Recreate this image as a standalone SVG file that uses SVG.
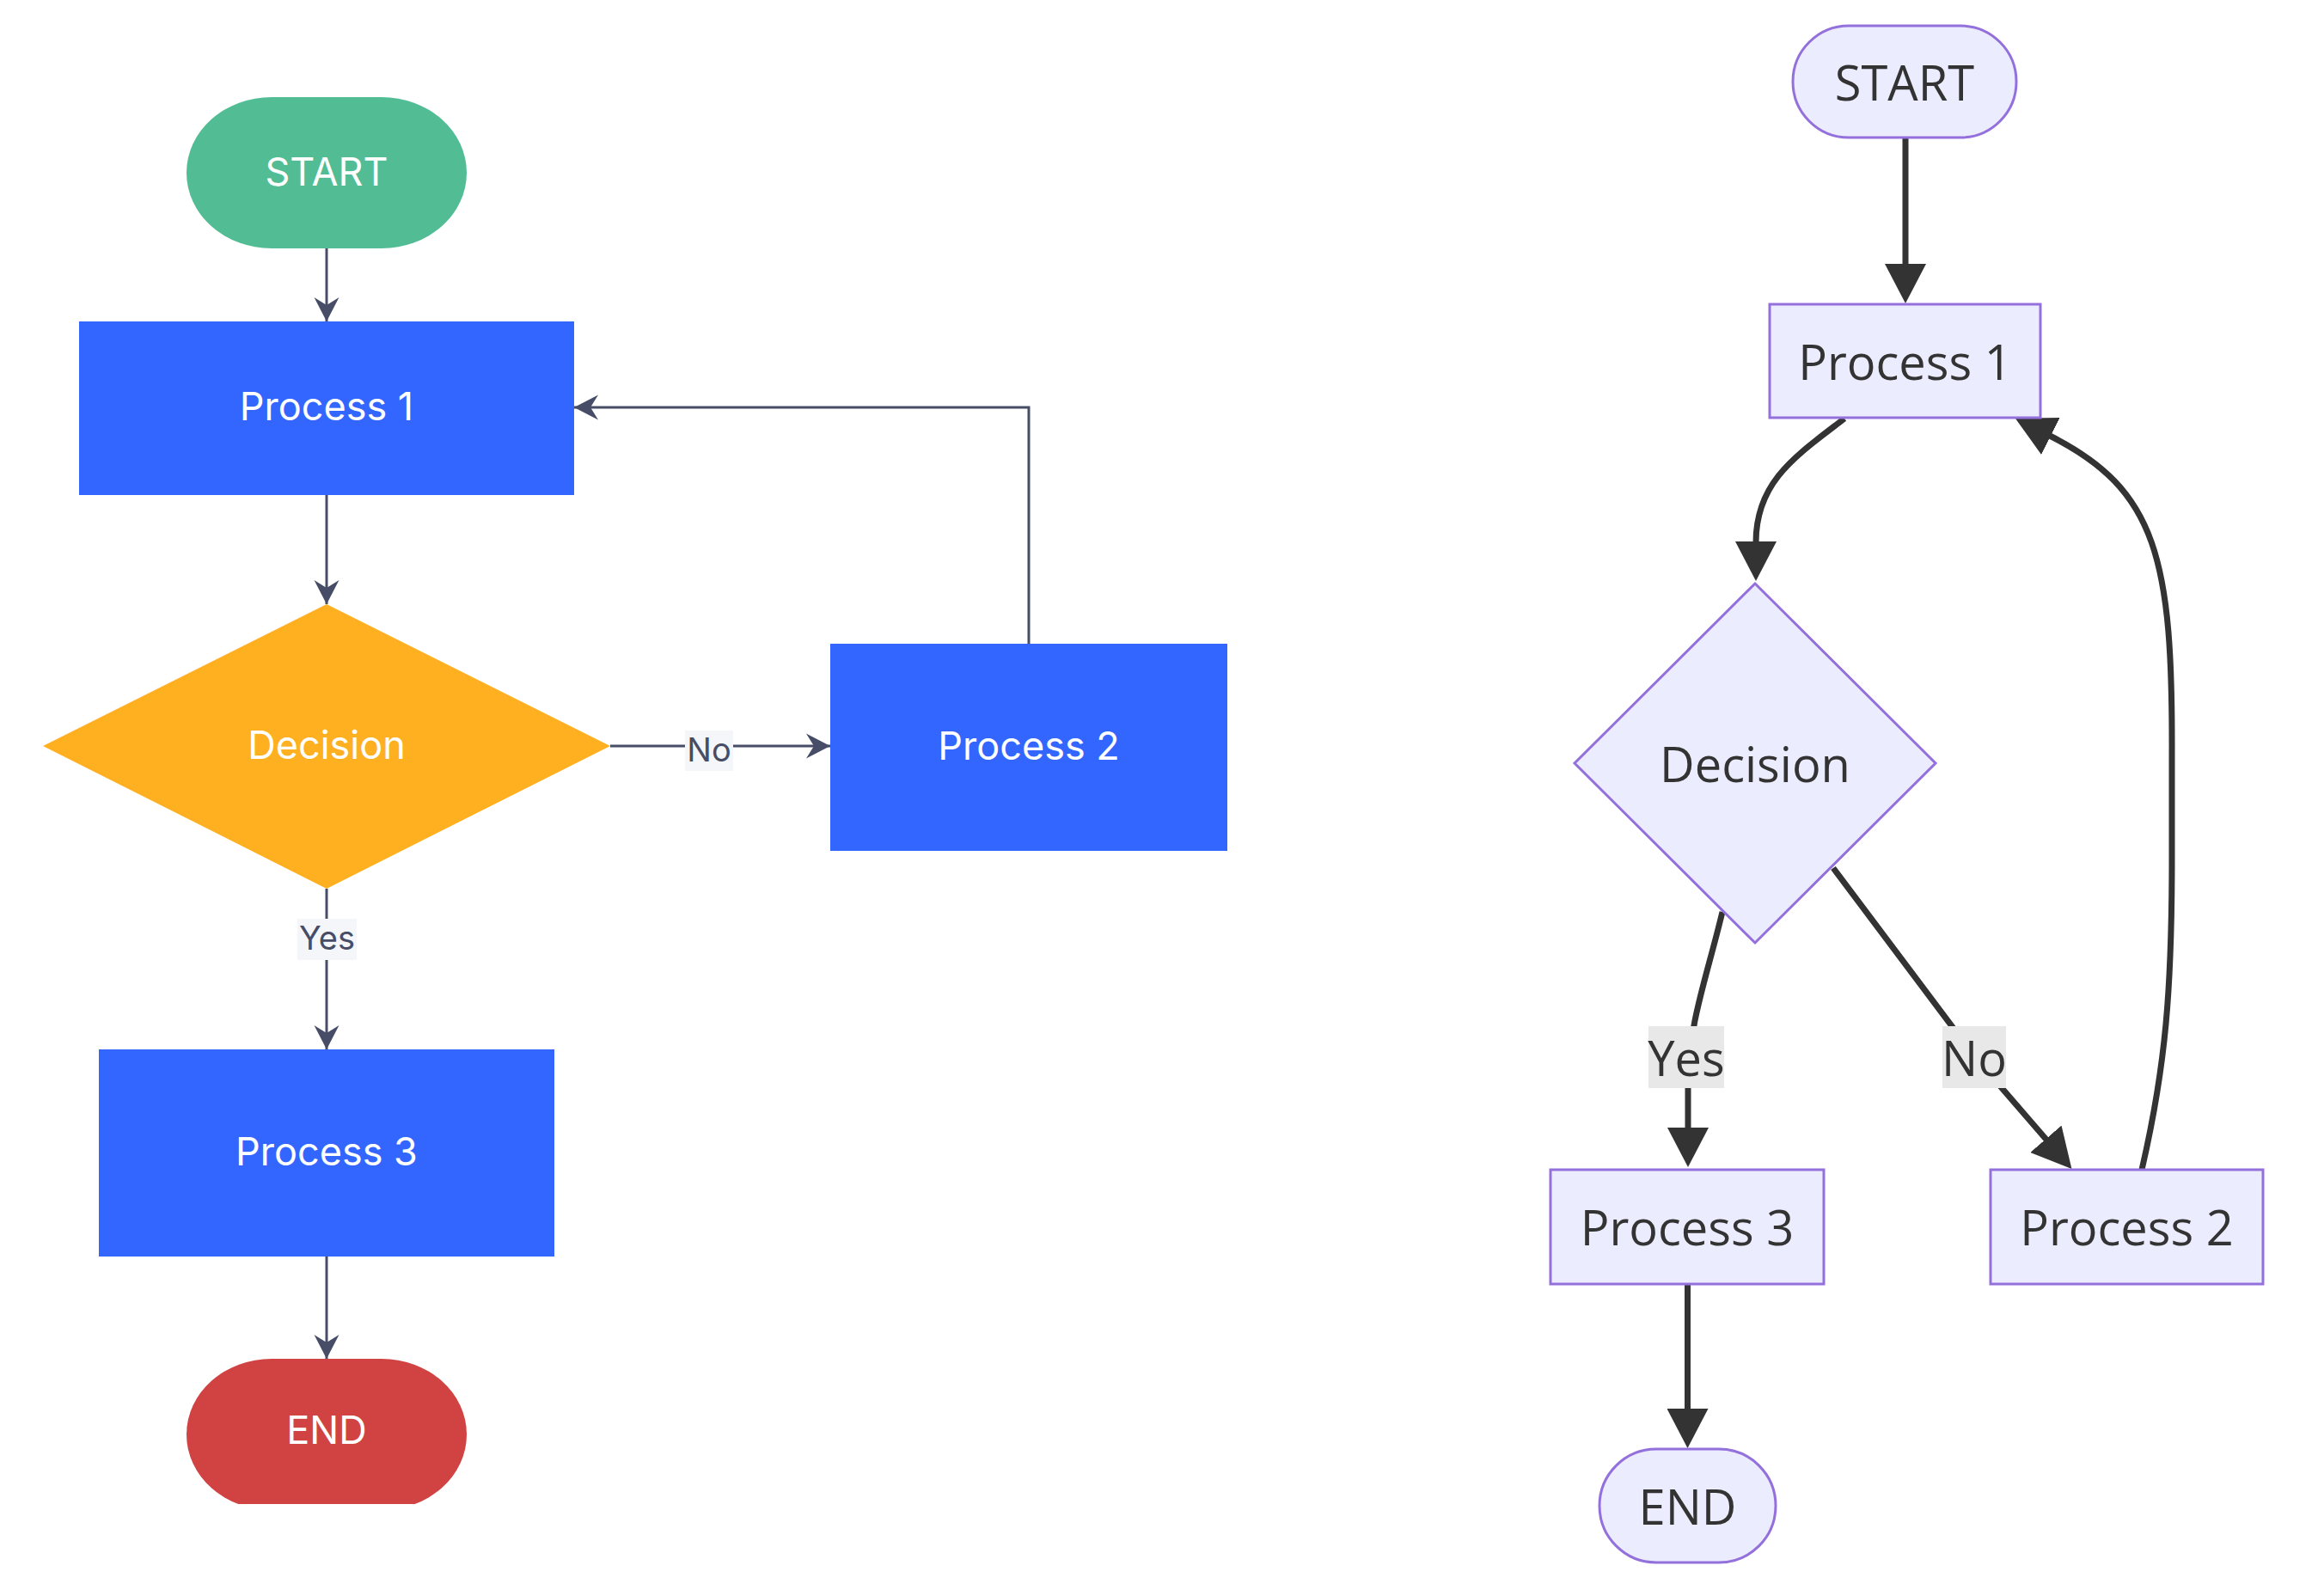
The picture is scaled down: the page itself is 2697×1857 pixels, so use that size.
<svg xmlns="http://www.w3.org/2000/svg" width="2697" height="1857" viewBox="0 0 2697 1857">
<style>
  .lt { font-family: Inter, "Liberation Sans", Arial, sans-serif; font-size: 45px; fill: #FFFFFF; text-anchor: middle; }
  .ll { font-family: Inter, "Liberation Sans", Arial, sans-serif; font-size: 38px; fill: #474D66; text-anchor: middle; }
  .le { fill: none; stroke: #474D66; stroke-width: 3; }
  .lbg { fill: #F4F6FA; }
  .blue { fill: #3366FF; }
  .rn { fill: #ECECFF; stroke: #9370DB; stroke-width: 3; }
  .rt { font-family: "Open Sans", "Noto Sans", "DejaVu Sans", sans-serif; font-size: 56px; fill: #333333; text-anchor: middle; }
  .re { fill: none; stroke: #333333; stroke-width: 7; }
  .rbg { fill: #E8E8E8; }
</style>
<defs>
  <marker id="stealth" markerUnits="userSpaceOnUse" markerWidth="30" markerHeight="30" viewBox="0 0 30 30" refX="28" refY="15" orient="auto">
    <path d="M28,15 L0,0.5 L9,15 L0,29.5 Z" fill="#474D66"/>
  </marker>
  <marker id="tri" markerUnits="userSpaceOnUse" markerWidth="46" markerHeight="48" viewBox="0 0 46 48" refX="1" refY="24" orient="auto">
    <path d="M0,0 L46,24 L0,48 Z" fill="#333333"/>
  </marker>
  <clipPath id="endclip"><rect x="200" y="1570" width="360" height="180"/></clipPath>
</defs>
<rect x="0" y="0" width="2697" height="1857" fill="#FFFFFF"/>

<!-- LEFT DIAGRAM connectors -->
<g id="left-connectors">
  <path class="le" d="M380 289 L380 374" marker-end="url(#stealth)"/>
  <path class="le" d="M380 576 L380 703" marker-end="url(#stealth)"/>
  <path class="le" d="M710 868 L966 868" marker-end="url(#stealth)"/>
  <path class="le" d="M1197 749 L1197 474 L668 474" marker-end="url(#stealth)"/>
  <path class="le" d="M380 1034 L380 1221" marker-end="url(#stealth)"/>
  <path class="le" d="M380 1462 L380 1581" marker-end="url(#stealth)"/>
  <rect class="lbg" x="797" y="850" width="56" height="47"/>
  <text class="ll" x="825" y="886">No</text>
  <rect class="lbg" x="346" y="1069" width="69" height="48"/>
  <text class="ll" x="380.5" y="1105">Yes</text>
</g>

<!-- LEFT DIAGRAM nodes -->
<g id="l-start">
  <rect x="217" y="113" width="326" height="176" rx="99" ry="88" fill="#52BD94"/>
  <text class="lt" x="380" y="216">START</text>
</g>
<g id="l-process1">
  <rect class="blue" x="92" y="374" width="576" height="202"/>
  <text class="lt" x="380" y="489">Process 1</text>
</g>
<g id="l-decision">
  <polygon points="380,703 710,868 380,1034 50,868" fill="#FFB020"/>
  <text class="lt" x="380" y="883">Decision</text>
</g>
<g id="l-process2">
  <rect class="blue" x="966" y="749" width="462" height="241"/>
  <text class="lt" x="1197" y="884">Process 2</text>
</g>
<g id="l-process3">
  <rect class="blue" x="115" y="1221" width="530" height="241"/>
  <text class="lt" x="380" y="1356">Process 3</text>
</g>
<g id="l-end">
  <rect x="217" y="1581" width="326" height="176" rx="99" ry="88" fill="#D14343" clip-path="url(#endclip)"/>
  <text class="lt" x="380" y="1680">END</text>
</g>

<!-- RIGHT DIAGRAM connectors -->
<g id="right-connectors">
  <path class="re" d="M2217 160 L2217 308" marker-end="url(#tri)"/>
  <path class="re" d="M2146 487 C2090 530 2043 560 2043 631" marker-end="url(#tri)"/>
  <path class="re" d="M2004 1061 C1985 1140 1965 1190 1964 1260 L1964 1313" marker-end="url(#tri)"/>
  <path class="re" d="M2133 1010 L2298 1230 L2381 1326" marker-end="url(#tri)"/>
  <path class="re" d="M2492 1361 C2520 1240 2527 1150 2527 1000 L2527 880 C2528 650 2510 570 2385 507" marker-end="url(#tri)"/>
  <path class="re" d="M1963.5 1494 L1963.5 1640" marker-end="url(#tri)"/>
  <rect class="rbg" x="1918" y="1194" width="88" height="72"/>
  <text class="rt" x="1962" y="1252">Yes</text>
  <rect class="rbg" x="2260" y="1194" width="74" height="72"/>
  <text class="rt" x="2297" y="1252">No</text>
</g>

<!-- RIGHT DIAGRAM nodes -->
<g id="r-start">
  <rect class="rn" x="2086" y="30" width="260" height="130" rx="65" ry="65"/>
  <text class="rt" x="2216" y="117">START</text>
</g>
<g id="r-process1">
  <rect class="rn" x="2059" y="354" width="315" height="132"/>
  <text class="rt" x="2216.5" y="442">Process 1</text>
</g>
<g id="r-decision">
  <polygon class="rn" points="2042,679 2252,888 2042,1097 1832,888"/>
  <text class="rt" x="2042" y="910">Decision</text>
</g>
<g id="r-process3">
  <rect class="rn" x="1804" y="1361" width="318" height="133"/>
  <text class="rt" x="1963" y="1449">Process 3</text>
</g>
<g id="r-process2">
  <rect class="rn" x="2316" y="1361" width="317" height="133"/>
  <text class="rt" x="2474.5" y="1449">Process 2</text>
</g>
<g id="r-end">
  <rect class="rn" x="1861" y="1686" width="205" height="132" rx="66" ry="66"/>
  <text class="rt" x="1963.5" y="1774">END</text>
</g>
</svg>
